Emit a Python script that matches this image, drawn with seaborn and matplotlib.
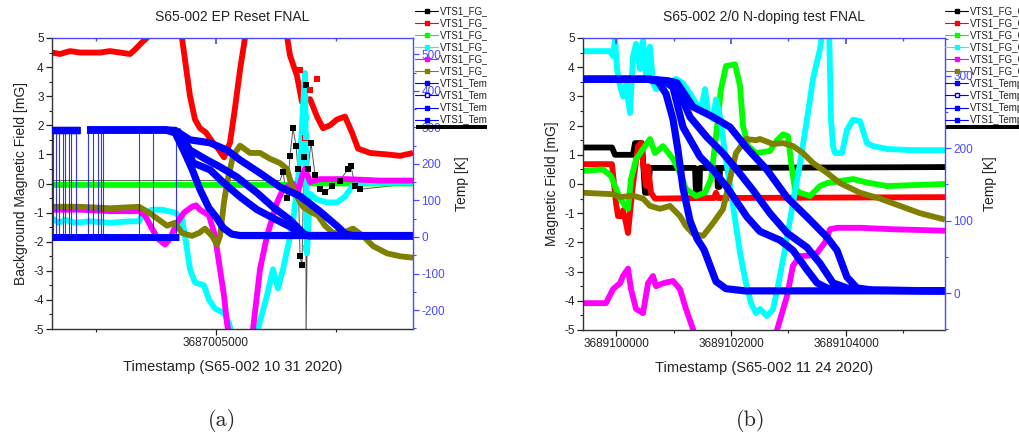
import numpy as np
import pandas as pd
import matplotlib
matplotlib.use("Agg")
import matplotlib.pyplot as plt
import seaborn as sns
from matplotlib.ticker import MultipleLocator, FuncFormatter
from matplotlib.lines import Line2D
from matplotlib.patches import Rectangle
from matplotlib.transforms import Bbox, TransformedBbox

# ---------------- data: panel (a), seconds after T0 ----------------
a_t0 = 3687000000
a_red_t = [-1833, -1500, -1083, -667, -250, 167, 583, 1000, 1417, 1625, 1917, 2250, 2667, 3083, 3583,
           3750, 3917, 4125, 4333, 4583, 4833, 5083, 5333, 5583, 5792, 6000, 6208, 6625, 7250, 7875,
           8083, 8375, 8583, 8917, 9208, 9458, 9750, 10042, 10375, 10667, 10917, 11417, 12125, 12667, 13208]
a_red = [4.5, 4.45, 4.55, 4.5, 4.5, 4.5, 4.55, 4.5, 4.45, 4.6, 4.85, 5.1, 5.6, 5.6, 5.0,
         4.0, 3.0, 2.2, 1.9, 1.75, 1.45, 1.2, 0.9, 1.4, 2.6, 3.9, 5.0, 5.8, 6.0, 5.5,
         4.4, 3.7, 2.8, 2.9, 2.3, 1.9, 2.0, 2.2, 2.3, 1.75, 1.2, 1.05, 1.0, 0.95, 1.05]
a_red_pts_t = [8500, 8708, 9208, 8917]
a_red_pts = [3.9, 1.55, 3.6, 3.2]

a_black_t = [-1833, 7667, 7792, 7958, 8083, 8208, 8333, 8417, 8500, 8583, 8667, 8750, 8750, 8833, 8958,
             9125, 9333, 9542, 9833, 10167, 10500, 10625, 10792, 11000, 13208]
a_black = [0.1, 0.1, 0.4, -0.5, 0.95, 1.9, 1.3, 0.5, -2.5, -2.8, 0.9, 3.4, -5.5, 0.5, 1.4,
           0.3, -0.2, -0.3, -0.1, 0.1, 0.5, 0.6, -0.1, -0.2, 0.0]

a_green_t = [-1833, 3000, 8000, 8700, 13208]
a_green = [-0.05, -0.05, -0.05, 0.0, 0.0]

a_cyan_t = [-1833, -1542, -1292, -875, -250, 583, 1417, 1792, 1917, 2333, 2750, 3292, 3583, 3708, 3917,
            4125, 4500, 4708, 4958, 5333, 5542, 5792, 6208, 6750, 7125, 7375, 7583, 7792, 8000, 8208,
            8375, 8500, 8583, 8708, 8792, 8917, 9208, 9625, 10042, 10375, 10667, 11000, 13208]
a_cyan = [-1.2, -1.35, -1.25, -1.35, -1.3, -1.35, -1.3, -1.3, -1.1, -0.9, -0.9, -1.0, -1.2, -1.8, -2.95,
          -3.4, -3.5, -4.0, -4.3, -4.45, -4.8, -5.6, -6.5, -5.0, -3.85, -2.95, -3.6, -2.95, -2.15, -1.35,
          -0.1, 0.7, 2.0, 3.8, -2.4, -0.35, -0.55, -0.65, -0.65, -0.45, -0.1, 0.0, 0.05]
a_cyan_pts_t = [8720, 8740, 8740, 8760]
a_cyan_pts = [2.65, 2.3, 1.6, -2.2]

a_mag_t = [-1833, -667, 583, 1792, 2042, 2333, 2583, 2875, 3083, 3375, 3667, 4000, 4167, 4333, 4708,
           4958, 5167, 5333, 5458, 5625, 6333, 6542, 6833, 7125, 7542, 7792, 8208, 8417, 8583, 8708,
           8917, 9333, 10458, 11833, 13208]
a_mag = [-0.9, -0.9, -0.95, -0.95, -1.1, -1.55, -1.9, -2.1, -1.9, -1.35, -1.0, -0.8, -0.75, -0.9, -1.1,
         -1.8, -2.95, -3.85, -4.8, -5.6, -5.6, -5.0, -2.95, -1.8, -0.65, -0.2, 0.0, -0.3, 0.25, 0.5,
         0.05, 0.15, 0.15, 0.1, 0.1]

a_olive_t = [-1833, -667, 583, 1792, 2208, 2625, 2958, 3292, 3583, 4000, 4292, 4542, 4833, 5042, 5167,
             5333, 5458, 5708, 6000, 6417, 6833, 7250, 7667, 7958, 8167, 8375, 8625, 9000, 9250, 9542,
             9875, 10292, 10708, 11125, 11542, 12125, 12667, 13208]
a_olive = [-0.8, -0.8, -0.85, -0.8, -1.0, -1.25, -1.45, -1.35, -1.7, -1.8, -1.7, -1.55, -1.8, -2.1, -1.8,
           -0.65, 0.0, 0.95, 1.3, 1.05, 1.05, 0.85, 0.7, 0.5, -0.1, -0.45, -0.8, -1.0, -1.1, -1.45,
           -1.7, -1.7, -1.55, -1.8, -2.15, -2.4, -2.5, -2.55]

# temperatures [K] (NaN = logging gap)
a_T1_t = [-1833, -667, np.nan, -375, 2900, 3300, 3700, 4000, 4333, 4700, 5000, 5300, 5650, 6000, 13208]
a_T1 = [293, 293, np.nan, 293, 293, 285, 230, 186, 130, 80, 55, 25, 8, 4, 4]
a_T2_t = [3375, 3700, 4042, 4750, 5292, 6000, 6708, 7375, 8083, 8500, 8850, 13208]
a_T2 = [293, 262, 203, 184, 150, 110, 75, 52, 28, 11, 4, 3]
a_T3_t = [-1833, -667, np.nan, -375, 2900, 3300, 3600, 3917, 4625, 5167, 5875, 6708, 7375, 8083, 8500,
          8708, 8900, 13208]
a_T3 = [293, 293, np.nan, 293, 293, 290, 270, 238, 211, 192, 164, 121, 82, 47, 19, 5, 3, 3]
a_T4_t = [-1833, -667, np.nan, -375, 2900, 3300, 3917, 4750, 5458, 6000, 6833, 7667, 8500, 9333,
          10042, 10400, 10750, 13208]
a_T4 = [293, 293, np.nan, 293, 293, 292, 266, 258, 238, 211, 175, 137, 112, 70, 30, 8, 3, 3]
a_T2_low_t = [-1833, 3458]
a_T2_low = [0, 0]
a_spike_t = [-1792, -1667, -1542, -1375, -1292, -1125, -1042, -833, -333, -125, 83, 208, 292,
             1792, 2375, 3333]
a_room = 293

# ---------------- data: panel (b) ----------------
b_t0 = 3689100000
b_black_t = [-574, -70, -17, 296, 330, 452, 504, 557, 591, 1374, 1390, 1450, 1461, 1757, 1770, 1800,
             1809, 5722]
b_black = [1.25, 1.25, 1.0, 1.0, 1.4, 1.4, -0.3, -0.3, 0.55, 0.55, -0.3, -0.3, 0.55, 0.55, -0.1, -0.1,
           0.55, 0.58]
b_red_t = [-574, -70, 0, 35, 87, 122, 174, 209, 243, 296, 383, 435, 470, 522, 557, 609, 678, 1461,
           1704, 1739, 1774, 5722]
b_red = [0.68, 0.68, -0.65, -1.1, -1.1, -0.9, -1.34, -1.68, -1.0, 0.0, 1.3, 1.4, 0.72, -0.07, 0.6,
         -0.3, -0.5, -0.48, -0.48, -0.3, -0.48, -0.45]
b_green_t = [-574, -226, -87, -17, 70, 157, 209, 261, 348, 470, 591, 678, 817, 991, 1113, 1217, 1391,
             1548, 1652, 1739, 1826, 1913, 2070, 2157, 2209, 2296, 2435, 2678, 2800, 2904, 2991, 3061,
             3113, 3200, 3374, 3548, 3670, 4122, 4365, 4713, 5722]
b_green = [0.45, 0.5, 0.27, -0.07, -0.5, -0.75, -0.85, 0.17, 0.85, 1.2, 1.54, 1.06, 1.3, 0.86, 0.38,
           -0.17, -0.41, -0.3, 0.17, 1.64, 3.25, 4.04, 4.1, 3.36, 1.99, 1.3, 1.06, 1.13, 1.5, 1.7, 1.64,
           0.5, -0.17, -0.3, -0.41, -0.07, 0.03, 0.17, 0.05, -0.07, 0.0]
b_cyan_t = [-574, -104, -52, -17, 17, 70, 122, 174, 243, 296, 348, 417, 470, 522, 591, 643, 696, 817,
            939, 1043, 1165, 1287, 1391, 1478, 1548, 1600, 1687, 1739, 1809, 1896, 1983, 2070, 2157,
            2261, 2348, 2435, 2504, 2626, 2730, 2817, 2939, 3078, 3200, 3322, 3426, 3548, 3635, 3704,
            3739, 3774, 3809, 3930, 4017, 4122, 4244, 4365, 4469, 4713, 5113, 5722]
b_cyan = [4.55, 4.55, 4.38, 4.97, 3.94, 3.36, 3.0, 3.4, 2.43, 4.38, 4.8, 3.94, 4.9, 3.7, 4.7, 3.46,
          3.25, 3.36, 3.45, 3.6, 3.45, 3.1, 2.77, 2.57, 3.25, 2.45, 2.22, 2.9, 2.3, 1.06, -0.07, -1.2,
          -2.36, -3.4, -4.08, -4.42, -4.28, -4.52, -4.3, -3.5, -2.23, -0.65, 0.72, 2.22, 3.6, 4.62,
          5.8, 5.5, 2.22, 1.3, 1.06, 1.06, 1.85, 2.2, 2.15, 1.4, 1.3, 1.2, 1.16, 1.16]
b_mag_t = [-574, -174, -52, 70, 122, 209, 261, 348, 470, 557, 643, 696, 817, 991, 1113, 1217, 1339,
           1461, 2157, 2800, 2974, 3078, 3200, 3374, 3496, 3635, 3722, 3843, 4244, 4817, 5722]
b_mag = [-4.08, -4.08, -3.6, -3.4, -3.15, -2.9, -3.6, -4.28, -4.42, -3.4, -3.15, -3.5, -3.4, -3.32,
         -3.6, -4.28, -4.97, -5.8, -8.0, -5.0, -3.84, -2.8, -2.47, -2.45, -2.36, -2.0, -1.55, -1.5,
         -1.5, -1.55, -1.6]
b_olive_t = [-574, -52, 70, 296, 470, 591, 765, 939, 1113, 1217, 1339, 1513, 1687, 1861, 1983, 2087,
             2261, 2435, 2504, 2730, 2904, 3078, 3252, 3426, 3670, 3896, 4244, 4591, 4939, 5287, 5722]
b_olive = [-0.3, -0.35, -0.45, -0.4, -0.5, -0.75, -0.85, -0.75, -1.1, -1.44, -1.7, -1.78, -1.34,
           -0.86, 0.17, 1.06, 1.54, 1.5, 1.54, 1.37, 1.4, 1.3, 1.06, 0.72, 0.38, 0.03, -0.3, -0.5,
           -0.75, -1.0, -1.22]
b_T1_t = [-574, 557, 730, 870, 991, 1078, 1165, 1287, 1409, 1530, 1635, 1739, 1913, 2243, 5722]
b_T1 = [295, 295, 292, 275, 240, 197, 145, 100, 75, 60, 38, 16, 6, 3, 3]
b_T2_t = [-574, 591, 852, 991, 1165, 1461, 1687, 1930, 2278, 2504, 2852, 3078, 3322, 3496, 3670,
          3896, 5722]
b_T2 = [295, 295, 292, 284, 229, 188, 170, 146, 105, 85, 73, 59, 32, 14, 7, 4, 3]
b_T3_t = [-574, 591, 904, 1061, 1287, 1583, 1861, 2104, 2382, 2678, 2974, 3322, 3548, 3774, 4017,
          4244, 5722]
b_T3 = [295, 295, 292, 284, 243, 215, 193, 170, 142, 110, 83, 63, 41, 14, 7, 4, 3]
b_T4_t = [-574, 591, 904, 1061, 1339, 1687, 1983, 2278, 2626, 2974, 3322, 3670, 3843, 4017, 4191,
          4469, 5722]
b_T4 = [295, 295, 293, 290, 257, 243, 229, 200, 170, 132, 105, 77, 59, 22, 7, 4, 3]

fg_labels = ["VTS1_FG_Ch1", "VTS1_FG_Ch2", "VTS1_FG_Ch3", "VTS1_FG_Ch4", "VTS1_FG_Ch5", "VTS1_FG_Ch6"]
temp_labels = ["VTS1_Temp1", "VTS1_Temp2", "VTS1_Temp3", "VTS1_Temp4"]

# ---------------- style ----------------
sns.set_theme(style="white")
plt.rcParams["font.family"] = ["Liberation Sans", "DejaVu Sans"]
plt.rcParams["axes.unicode_minus"] = False

BLACK, RED, GREEN, CYAN, MAG, OLIVE, BLUE = "#000000", "#ff0000", "#00ff00", "#00ffff", "#ff00ff", "#808000", "#0000ff"
AXBLUE = "#4a4aff"
LW = 4.2

W, H = 1019, 438
fig = plt.figure(figsize=(W / 100, H / 100), dpi=100)


def rect(x0, y0, x1, y1):
    return [x0 / W, 1 - y1 / H, (x1 - x0) / W, (y1 - y0) / H]


def draw(ax, t0, x, y, color, lw=LW, **kw):
    df = pd.DataFrame({"x": np.asarray(x, float) + t0, "y": np.asarray(y, float)})
    df["seg"] = df["y"].isna().cumsum()
    df = df.dropna()
    sns.lineplot(data=df, x="x", y="y", units="seg", estimator=None, sort=False, color=color,
                 lw=lw, ax=ax, legend=False, solid_capstyle="butt", **kw)


def dots(ax, t0, x, y, color, size=16):
    sns.scatterplot(x=np.asarray(x, float) + t0, y=y, color=color, marker="s", s=size,
                    edgecolor=color, linewidth=0, ax=ax, legend=False, zorder=5)


def setup(ax, ax2, xlim, major, offset, minor, tlim, title, ylabel, xlabel):
    ax.set_xlim(*xlim)
    ax.set_ylim(-5, 5)
    ax2.set_ylim(*tlim)
    ax.xaxis.set_major_locator(MultipleLocator(major, offset=offset))
    ax.xaxis.set_minor_locator(MultipleLocator(minor))
    ax.xaxis.set_major_formatter(FuncFormatter(lambda v, p: f"{v:.0f}"))
    ax.yaxis.set_major_locator(MultipleLocator(1))
    ax.yaxis.set_minor_locator(MultipleLocator(0.5))
    ax2.yaxis.set_major_locator(MultipleLocator(100))
    ax2.yaxis.set_minor_locator(MultipleLocator(50))
    ax.tick_params(axis="both", which="both", direction="out", bottom=True, left=True,
                   labelsize=8.5, colors="#222222", pad=2)
    ax.tick_params(which="major", length=4, width=0.9)
    ax.tick_params(which="minor", length=2.5, width=0.8)
    ax2.tick_params(axis="y", which="both", direction="out", right=True, colors=AXBLUE,
                    labelsize=8.5, pad=2)
    ax2.tick_params(axis="y", which="major", length=4, width=0.9)
    ax2.tick_params(axis="y", which="minor", length=2.5, width=0.8)
    # top ticks pointing inward on the blue frame
    ax2.xaxis.set_visible(True)
    ax2.set_xlabel("")
    ax2.tick_params(axis="x", which="both", direction="in", top=True, bottom=False,
                    labeltop=False, labelbottom=False, colors=AXBLUE)
    ax2.tick_params(axis="x", which="major", length=4)
    ax2.tick_params(axis="x", which="minor", length=2.5)
    for s in ("left", "bottom"):
        ax.spines[s].set_color("#333333")
        ax.spines[s].set_linewidth(1.0)
        ax2.spines[s].set_visible(False)
    ax.spines["top"].set_visible(False)
    ax.spines["right"].set_visible(False)
    for s in ("top", "right"):
        ax2.spines[s].set_color(AXBLUE)
        ax2.spines[s].set_linewidth(1.0)
    ax.set_title(title, fontsize=10, pad=12, color="#222222")
    ax.set_ylabel(ylabel, fontsize=10, color="#222222")
    ax.set_xlabel(xlabel, fontsize=10.5, color="#222222", labelpad=8)
    ax2.set_ylabel("Temp [K]", fontsize=10, color="#222222", labelpad=7)


def legend(x0, clip_x):
    handles = [Line2D([], [], color=c, lw=0.8, marker="s", ms=3.5, mfc=c, mec=c)
               for c in (BLACK, RED, GREEN, CYAN, MAG, OLIVE)]
    handles += [Line2D([], [], color=BLUE, lw=0.8, marker="s", ms=3.5, mfc=mf, mec=BLUE)
                for mf in (BLUE, "white", BLUE, BLUE)]
    leg = fig.legend(handles, fg_labels + temp_labels, loc="upper left",
                     bbox_to_anchor=(x0 / W, 1 - 3 / H), borderaxespad=0, fontsize=7,
                     labelspacing=0.22, handlelength=2.4, handletextpad=0.15, borderpad=0.3,
                     frameon=True, fancybox=False, framealpha=0, edgecolor="#999999")
    leg.get_frame().set_linewidth(0.8)
    for t in leg.get_texts():
        t.set_color("#222222")
    cb = TransformedBbox(Bbox.from_extents(0, 0, clip_x / W, 1), fig.transFigure)
    for a in leg.findobj():
        a.set_clip_box(cb)
        a.set_clip_on(True)
    fig.add_artist(Rectangle(((x0 + 4) / W, 1 - 129 / H), (clip_x - x0 - 4) / W, 4 / H,
                             transform=fig.transFigure, color="black", lw=0))


# ---------------- panel (a) ----------------
ax = fig.add_axes(rect(52, 38, 413, 329))
ax2 = ax.twinx()
draw(ax, a_t0, a_black_t, a_black, "#555555", lw=0.7)
dots(ax, a_t0, a_black_t[2:-1], a_black[2:-1], BLACK)
draw(ax, a_t0, a_red_t, a_red, RED)
dots(ax, a_t0, a_red_pts_t, a_red_pts, RED, 22)
draw(ax, a_t0, a_green_t, a_green, GREEN)
draw(ax, a_t0, a_cyan_t, a_cyan, CYAN)
dots(ax, a_t0, a_cyan_pts_t, a_cyan_pts, CYAN, 22)
draw(ax, a_t0, a_mag_t, a_mag, MAG)
draw(ax, a_t0, a_olive_t, a_olive, OLIVE)
draw(ax2, a_t0, a_T2_low_t, a_T2_low, BLUE, lw=5)
ax2.vlines(np.asarray(a_spike_t) + a_t0, 0, a_room, color=BLUE, lw=0.8, alpha=0.8)
for tt, tv in ((a_T1_t, a_T1), (a_T2_t, a_T2), (a_T3_t, a_T3), (a_T4_t, a_T4)):
    draw(ax2, a_t0, tt, tv, BLUE, lw=5.2)
setup(ax, ax2, (a_t0 - 1833, a_t0 + 13208), 10000, 5000, 5000, (-252, 545),
      "S65-002 EP Reset FNAL", "Background Magnetic Field [mG]", "Timestamp (S65-002 10 31 2020)")
legend(412, 487)

# ---------------- panel (b) ----------------
bx = fig.add_axes(rect(583, 38, 945, 330))
bx2 = bx.twinx()
draw(bx, b_t0, b_black_t, b_black, BLACK)
draw(bx, b_t0, b_red_t, b_red, RED)
draw(bx, b_t0, b_green_t, b_green, GREEN)
draw(bx, b_t0, b_cyan_t, b_cyan, CYAN)
draw(bx, b_t0, b_mag_t, b_mag, MAG)
draw(bx, b_t0, b_olive_t, b_olive, OLIVE)
for tt, tv in ((b_T1_t, b_T1), (b_T2_t, b_T2), (b_T3_t, b_T3), (b_T4_t, b_T4)):
    draw(bx2, b_t0, tt, tv, BLUE, lw=5.2)
setup(bx, bx2, (b_t0 - 574, b_t0 + 5722), 2000, 0, 1000, (-51, 352),
      "S65-002 2/0 N-doping test FNAL", "Magnetic Field [mG]", "Timestamp (S65-002 11 24 2020)")
legend(942, 1030)

fig.text(222 / W, 1 - 420 / H, "(a)", fontfamily="cmr10", fontsize=16, ha="center", va="center")
fig.text(751 / W, 1 - 420 / H, "(b)", fontfamily="cmr10", fontsize=16, ha="center", va="center")

fig.savefig("out.png", dpi=100)
